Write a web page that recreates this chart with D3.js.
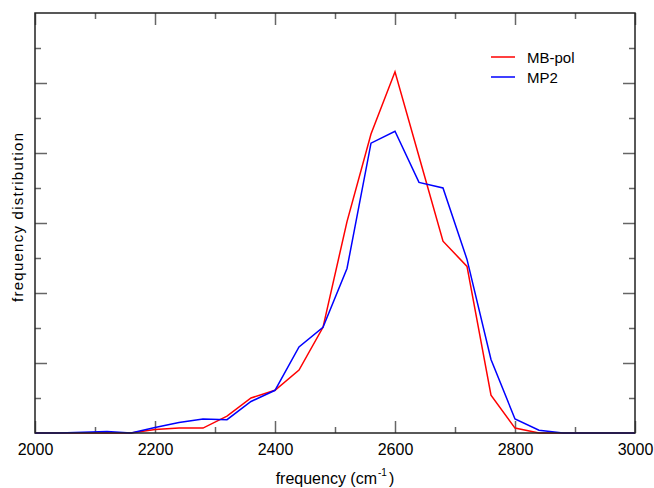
<!DOCTYPE html>
<html>
<head>
<meta charset="utf-8">
<script src="https://cdn.jsdelivr.net/npm/d3@7"></script>
<style>
  html, body { margin: 0; padding: 0; background: #fff; }
  svg { display: block; font-family: "Liberation Sans", Arial, Helvetica, sans-serif; }
</style>
</head>
<body>
<svg id="chart" width="654" height="488"></svg>
<script>
const frequencies = [2000,2040,2080,2120,2160,2200,2240,2280,2320,2360,2400,2440,2480,2520,2560,2600,2640,2680,2720,2760,2800,2840,2880,2920,2960,3000];
const mbpol = [0,0,0,0,0,0.05,0.07,0.07,0.24,0.50,0.61,0.90,1.51,3.02,4.27,5.16,3.95,2.74,2.38,0.54,0.07,0,0,0,0,0];
const mp2   = [0,0,0.01,0.02,0,0.08,0.15,0.20,0.19,0.45,0.61,1.23,1.51,2.35,4.14,4.31,3.58,3.50,2.48,1.05,0.20,0.04,0,0,0,0];
const seriesNames = ["MB-pol", "MP2"];
const seriesColors = ["#ff0000", "#0000ff"];
const xMajorTicks = [2000,2200,2400,2600,2800,3000];
const xMinorTicks = [2100,2300,2500,2700,2900];
const yMajorTicks = [1,2,3,4,5];
const yMinorTicks = [0.5,1.5,2.5,3.5,4.5,5.5];

const svg = d3.select("#chart");
const L = 35, R = 635, T = 13, B = 433;
const x = d3.scaleLinear().domain([2000, 3000]).range([L, R]);
const y = d3.scaleLinear().domain([0, 6]).range([B, T]);

const tickColor = "#666";
function styleAxis(g) {
  g.select(".domain").remove();
  g.selectAll(".tick line").attr("stroke", tickColor).attr("stroke-width", 1.5);
}

// bottom axis
svg.append("g").attr("transform", `translate(0,${B})`)
  .call(d3.axisBottom(x).tickValues(xMajorTicks).tickSize(-12).tickPadding(11).tickFormat(d3.format("d")))
  .call(styleAxis)
  .call(g => g.selectAll("text").attr("font-size", 16).attr("fill", "#000").attr("font-family", "Liberation Sans, Arial, sans-serif"));
svg.append("g").attr("transform", `translate(0,${B})`)
  .call(d3.axisBottom(x).tickValues(xMinorTicks).tickSize(-6).tickFormat(""))
  .call(styleAxis);
// top axis
svg.append("g").attr("transform", `translate(0,${T})`)
  .call(d3.axisTop(x).tickValues(xMajorTicks).tickSize(-12).tickFormat(""))
  .call(styleAxis);
svg.append("g").attr("transform", `translate(0,${T})`)
  .call(d3.axisTop(x).tickValues(xMinorTicks).tickSize(-6).tickFormat(""))
  .call(styleAxis);
// left axis
svg.append("g").attr("transform", `translate(${L},0)`)
  .call(d3.axisLeft(y).tickValues(yMajorTicks).tickSize(-12).tickFormat(""))
  .call(styleAxis);
svg.append("g").attr("transform", `translate(${L},0)`)
  .call(d3.axisLeft(y).tickValues(yMinorTicks).tickSize(-6).tickFormat(""))
  .call(styleAxis);
// right axis
svg.append("g").attr("transform", `translate(${R},0)`)
  .call(d3.axisRight(y).tickValues(yMajorTicks).tickSize(-12).tickFormat(""))
  .call(styleAxis);
svg.append("g").attr("transform", `translate(${R},0)`)
  .call(d3.axisRight(y).tickValues(yMinorTicks).tickSize(-6).tickFormat(""))
  .call(styleAxis);

// lines
const line = d3.line().x((d, i) => x(frequencies[i])).y(d => y(d));
[mbpol, mp2].forEach((vals, k) => {
  svg.append("path").datum(vals)
    .attr("d", line)
    .attr("fill", "none")
    .attr("stroke", seriesColors[k])
    .attr("stroke-width", 1.5)
    .attr("stroke-linejoin", "miter");
});

// frame
svg.append("rect").attr("x", L).attr("y", T).attr("width", R - L).attr("height", B - T)
  .attr("fill", "none").attr("stroke", "#222").attr("stroke-width", 1.5);

// legend
const legendY = [57, 77];
seriesNames.forEach((name, k) => {
  svg.append("line").attr("x1", 491).attr("x2", 515).attr("y1", legendY[k]).attr("y2", legendY[k])
    .attr("stroke", seriesColors[k]).attr("stroke-width", 1.5);
  svg.append("text").attr("x", 527).attr("y", legendY[k] + 5.5)
    .attr("font-size", 15).attr("fill", "#000").text(name);
});

// axis labels
svg.append("text").attr("x", 377).attr("y", 484).attr("text-anchor", "end")
  .attr("font-size", 16).attr("fill", "#000").text("frequency (cm");
svg.append("text").attr("x", 378).attr("y", 476).attr("text-anchor", "start")
  .attr("font-size", 10).attr("fill", "#000").text("-1");
svg.append("text").attr("x", 389).attr("y", 484).attr("text-anchor", "start")
  .attr("font-size", 16).attr("fill", "#000").text(")");

svg.append("text")
  .attr("transform", "translate(23,217.5) rotate(-90)")
  .attr("text-anchor", "middle")
  .attr("font-size", 15)
  .attr("textLength", 169)
  .attr("lengthAdjust", "spacing")
  .attr("fill", "#000")
  .text("frequency distribution");
</script>
</body>
</html>
